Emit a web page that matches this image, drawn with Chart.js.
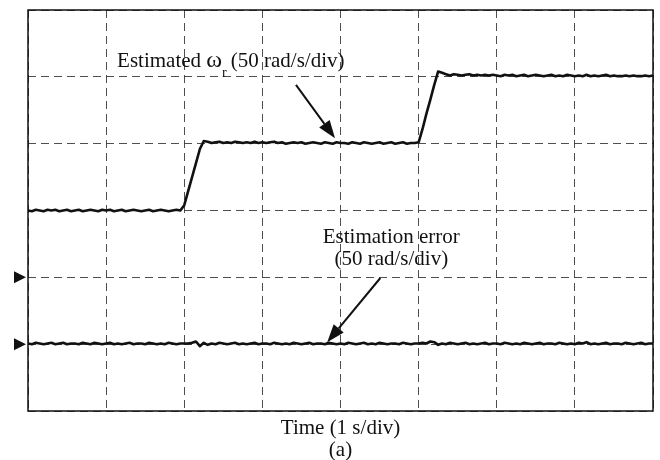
<!DOCTYPE html>
<html>
<head>
<meta charset="utf-8">
<script src="https://cdn.jsdelivr.net/npm/chart.js@4"></script>
<style>
  body { margin: 0; background: #fff; }
  canvas { display: block; }
</style>
</head>
<body>
<canvas id="scope" width="660" height="460"></canvas>
<script>
// scope traces, one sample every 0.05 div, values in divisions above the bottom edge
const dt = 0.05;

const speed = [
  3.00, 2.99, 3.01, 3.00, 2.99, 3.01, 3.00, 3.01, 2.99, 3.00,
  3.01, 2.99, 3.00, 3.01, 2.99, 3.00, 3.01, 3.00, 2.99, 3.01,
  3.00, 3.01, 2.99, 3.00, 3.01, 2.99, 3.00, 3.01, 3.00, 2.99,
  3.00, 3.01, 2.99, 3.00, 3.01, 3.00, 2.99, 3.00, 3.01, 3.00,
  3.08, 3.29, 3.50, 3.71, 3.92, 4.04,
  4.03, 4.01, 4.02, 4.03, 4.01, 4.02, 4.01, 4.03, 4.02, 4.01,
  4.02, 4.01, 4.03, 4.01, 4.02, 4.01, 4.02, 4.03, 4.01, 4.02,
  4.00, 4.01, 4.02, 4.01, 4.02, 4.00, 4.01, 4.02, 4.01, 4.00,
  4.02, 4.01, 4.00, 4.02, 4.01, 4.01, 4.00, 4.02, 4.01, 4.00,
  4.02, 4.01, 4.00, 4.01, 4.02, 4.00, 4.01, 4.02, 4.00, 4.01,
  4.02, 4.00, 4.01, 4.01,
  4.02, 4.22, 4.45, 4.66, 4.88, 5.08, 5.06,
  5.04, 5.02, 5.04, 5.03, 5.02, 5.03, 5.04, 5.02, 5.03, 5.02,
  5.03, 5.02, 5.03, 5.02, 5.01, 5.03, 5.02, 5.03, 5.01, 5.02,
  5.03, 5.01, 5.02, 5.03, 5.02, 5.01, 5.02, 5.03, 5.01, 5.02,
  5.01, 5.03, 5.02, 5.01, 5.02, 5.01, 5.03, 5.01, 5.02, 5.01,
  5.02, 5.03, 5.01, 5.02, 5.01, 5.01, 5.02, 5.01, 5.02, 5.01,
  5.01, 5.02, 5.01, 5.02
];

const error = [
  1.01, 1.00, 1.02, 1.01, 1.00, 1.01, 1.02, 1.00, 1.01, 1.02,
  1.00, 1.01, 1.01, 1.00, 1.02, 1.01, 1.00, 1.02, 1.01, 1.00,
  1.01, 1.02, 1.00, 1.01, 1.00, 1.01, 1.02, 1.00, 1.01, 1.01,
  1.00, 1.02, 1.01, 1.00, 1.01, 1.00, 1.02, 1.01, 1.00, 1.01,
  1.01, 1.01, 1.02, 1.04, 0.97, 1.02, 0.99, 1.01, 1.00, 1.02,
  1.01, 1.00, 1.01, 1.02, 1.00, 1.01, 1.00, 1.01, 1.02, 1.00,
  1.01, 1.01, 1.00, 1.02, 1.01, 1.00, 1.01, 1.00, 1.02, 1.01,
  1.00, 1.01, 1.02, 1.00, 1.01, 1.01, 1.00, 1.02, 1.01, 1.00,
  1.01, 1.00, 1.02, 1.01, 1.00, 1.01, 1.02, 1.00, 1.01, 1.00,
  1.02, 1.01, 1.00, 1.01, 1.01, 1.00, 1.02, 1.01, 1.00, 1.01,
  1.01, 1.02, 1.01, 1.04, 1.03, 0.99, 1.01, 1.00, 1.02, 1.01,
  1.00, 1.01, 1.02, 1.00, 1.01, 1.00, 1.01, 1.02, 1.00, 1.01,
  1.01, 1.00, 1.02, 1.01, 1.00, 1.01, 1.00, 1.02, 1.01, 1.00,
  1.01, 1.02, 1.00, 1.01, 1.01, 1.00, 1.02, 1.01, 1.00, 1.01,
  1.00, 1.02, 1.01, 1.03, 1.00, 1.01, 1.00, 1.01, 1.02, 1.00,
  1.01, 1.01, 1.00, 1.02, 1.01, 1.00, 1.01, 1.02, 1.00, 1.01,
  1.01
];

// channel ground markers (div)
const markers = [2, 1];

const serif = "'Liberation Serif', 'DejaVu Serif', serif";

function toPoints(values) {
  return values.map((v, i) => ({ x: i * dt, y: v }));
}

function arrow(ctx, x1, y1, x2, y2) {
  const a = Math.atan2(y2 - y1, x2 - x1);
  const len = 18, half = 6.5;
  const bx = x2 - len * Math.cos(a), by = y2 - len * Math.sin(a);
  ctx.beginPath();
  ctx.moveTo(x1, y1);
  ctx.lineTo(bx, by);
  ctx.lineWidth = 2;
  ctx.stroke();
  ctx.beginPath();
  ctx.moveTo(x2, y2);
  ctx.lineTo(bx + half * Math.sin(a), by - half * Math.cos(a));
  ctx.lineTo(bx - half * Math.sin(a), by + half * Math.cos(a));
  ctx.closePath();
  ctx.fill();
}

const scopeMarks = {
  id: "scopeMarks",
  afterDraw(chart) {
    const { ctx, chartArea: area, scales } = chart;
    const px = (v) => scales.x.getPixelForValue(v);
    const py = (v) => scales.y.getPixelForValue(v);
    ctx.save();
    ctx.strokeStyle = "#111";
    ctx.fillStyle = "#111";

    // solid frame
    ctx.lineWidth = 1.5;
    ctx.strokeRect(area.left, area.top, area.right - area.left, area.bottom - area.top);

    // ground markers left of the frame
    markers.forEach((m) => {
      const y = py(m);
      ctx.beginPath();
      ctx.moveTo(area.left - 2, y);
      ctx.lineTo(area.left - 14, y - 6);
      ctx.lineTo(area.left - 14, y + 6);
      ctx.closePath();
      ctx.fill();
    });

    // speed label
    ctx.textBaseline = "alphabetic";
    ctx.textAlign = "left";
    ctx.font = "21px " + serif;
    let x = px(1.14);
    const yb = py(5.15);
    ctx.fillText("Estimated ", x, yb);
    x += ctx.measureText("Estimated ").width;
    ctx.font = "24px " + serif;
    ctx.fillText("ω", x, yb);
    x += ctx.measureText("ω").width;
    ctx.font = "14px " + serif;
    ctx.fillText("r", x, yb + 10);
    x += ctx.measureText("r").width + 4;
    ctx.font = "21px " + serif;
    ctx.fillText("(50 rad/s/div)", x, yb);
    arrow(ctx, px(3.43), py(4.88), px(3.93), py(4.08));

    // error label
    ctx.textAlign = "center";
    ctx.fillText("Estimation error", px(4.65), py(2.51));
    ctx.fillText("(50 rad/s/div)", px(4.65), py(2.18));
    arrow(ctx, px(4.51), py(1.99), px(3.83), py(1.03));

    // time axis caption
    const cx = (area.left + area.right) / 2;
    ctx.fillText("Time (1 s/div)", cx, area.bottom + 23);
    ctx.fillText("(a)", cx, area.bottom + 45);
    ctx.restore();
  }
};

new Chart(document.getElementById("scope"), {
  type: "line",
  data: {
    datasets: [
      { data: toPoints(speed), borderColor: "#111", borderWidth: 2.6 },
      { data: toPoints(error), borderColor: "#111", borderWidth: 2.6 }
    ]
  },
  options: {
    responsive: false,
    animation: false,
    parsing: false,
    layout: { padding: { left: 28, top: 10, right: 7, bottom: 49 } },
    elements: { point: { radius: 0 }, line: { tension: 0, borderJoinStyle: "round" } },
    plugins: { legend: { display: false }, tooltip: { enabled: false } },
    scales: {
      x: {
        type: "linear",
        min: 0,
        max: 8,
        ticks: { display: false, stepSize: 1 },
        grid: { color: "rgba(60,60,60,0.9)", lineWidth: 1, drawTicks: false },
        border: { display: false, dash: [8, 5] }
      },
      y: {
        type: "linear",
        min: 0,
        max: 6,
        ticks: { display: false, stepSize: 1 },
        grid: { color: "rgba(60,60,60,0.9)", lineWidth: 1, drawTicks: false },
        border: { display: false, dash: [8, 5] }
      }
    }
  },
  plugins: [scopeMarks]
});
</script>
</body>
</html>
